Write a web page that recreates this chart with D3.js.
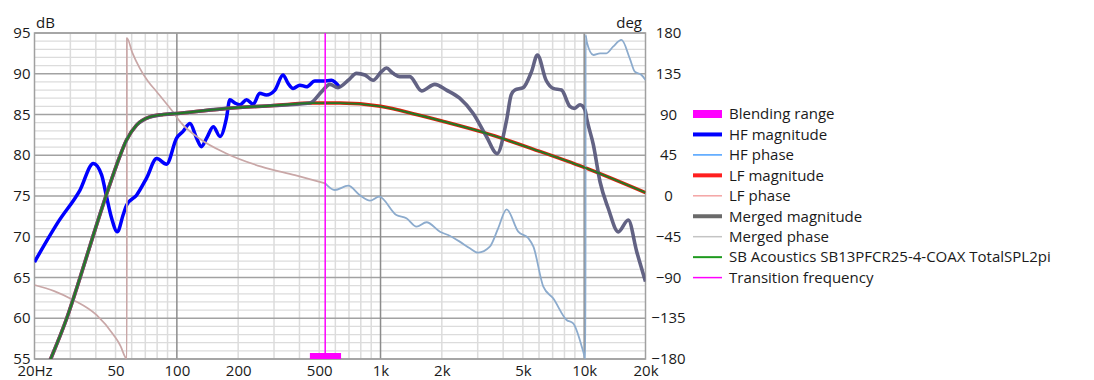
<!DOCTYPE html>
<html><head><meta charset="utf-8">
<script src="https://cdn.jsdelivr.net/npm/d3@7"></script>
<style>
html,body{margin:0;padding:0;background:#fff;}
svg{display:block;font-family:"Open Sans","Noto Sans",sans-serif;}
</style></head>
<body><svg id="c" width="1094" height="380"></svg>
<script>
// ---------- data ----------
const freqTicks  = [20,50,100,200,500,1000,2000,5000,10000,20000];
const freqLabels = ["20Hz","50","100","200","500","1k","2k","5k","10k","20k"];
const dbTicks  = [55,60,65,70,75,80,85,90,95];
const degTicks = [-180,-135,-90,-45,0,45,90,135,180];

const hfFreq = [20,26.2,33.4,38.9,42.7,45,47.8,51,54.5,56.7,63.4,71,79.6,89,99.7,107,116,125,132,140,151,163,175,182,193,204,220,237,255,275,303,332,352,372,402,433,476,523,574,632];
const hfMag  = [66.9,71.85,75.7,79.0,77.6,75.1,72.3,70.6,72.7,73.9,75.1,77.2,79.6,78.9,82.1,82.9,83.9,82.1,81.05,82.1,83.5,82.3,84.5,86.8,86.4,86.2,86.8,86.25,87.6,87.4,88.0,89.85,88.8,88.2,88.6,88.4,89.1,89.1,89.2,88.3];

const lfFreq = [20,24,28.8,33.4,38.9,45,50.6,56.7,63.4,73.7,85.8,103.7,175,300,466,632,1000,1500,2000,3200,6000,10000,20000];
const lfMag  = [50.5,55.0,60.0,64.9,70.2,75.1,78.8,81.9,83.7,84.7,85.0,85.15,85.75,86.1,86.4,86.4,86.0,85.0,84.2,82.8,80.5,78.5,75.4];

// merged magnitude: follows LF, blends in 450-640 Hz, then HF
const mergedFreq = [20,24,28.8,33.4,38.9,45,50.6,56.7,63.4,73.7,85.8,103.7,175,300,450,514,564,618,694,762,838,920,1010,1068,1152,1242,1392,1590,1846,2108,2448,2846,3312,3734,4158,4380,4568,5020,5520,5890,6500,7040,7740,8500,8960,9540,10100,10290,11100,11960,13120,14700,16460,18100,20000];
const mergedMag  = [50.5,55.0,60.0,64.9,70.2,75.1,78.8,81.9,83.7,84.7,85.0,85.15,85.75,86.1,86.4,87.8,88.7,88.3,89.2,90.05,89.85,89.2,90.25,90.7,90.05,89.65,89.65,87.9,88.7,88.0,87.0,85.15,82.3,80.2,84.3,87.4,88.0,88.3,90.3,92.3,89.2,88.2,88.0,86.0,85.75,86.2,85.55,84.5,81.25,76.75,73.5,70.6,72.05,68.2,64.5];

const lfPhaseFreq = [20,25,31,40.3,48.9,53,55.6,56.8,56.85,60.5,65.8,72,79.6,96,103.7,130,175,260,380,535];
const lfPhase     = [-98.3,-105,-114.8,-131.4,-153.5,-166,-177.4,-180,174.5,158,141,127,115.2,92.4,82.1,63,47,32.4,23,14.0];

const mergedPhaseFreq = [535,596,694,790,888,984,1196,1340,1502,1682,1958,2196,2448,2746,3014,3440,3780,4158,4746,5320,5632,6300,7040,8194,8830,9900,10150,10160,10300,11100,11960,12860,13860,15240,16740,17720,19120,20000];
const mergedPhase     = [14.0,6.6,11.4,1.1,-5.2,-0.8,-21.0,-24.6,-33.9,-29.0,-39.4,-44.2,-50.4,-57.7,-62.6,-56.0,-35.7,-14.7,-39.4,-46.7,-56.0,-100.1,-113,-136.9,-140.6,-171.9,-180,178,170,155.7,157.6,157.6,164.9,172.3,152,137.3,133.6,128.1];

const transitionFreq = 535;
const blendRange = [450,640];

const legendNames  = ["Blending range","HF magnitude","HF phase","LF magnitude","LF phase","Merged magnitude","Merged phase","SB Acoustics SB13PFCR25-4-COAX TotalSPL2pi","Transition frequency"];
const legendColors = ["#ff00ff","#0000ff","#4aa0ff","#ff2020","#f4a4a4","#6a6a6a","#c4c4c4","#1e9a1e","#ff00ff"];
const legendWidths = [8,4,1.5,4,1.5,4,1.5,2,1.5];

// ---------- chart ----------
const svg = d3.select("#c");
const L = 34.5, R = 645.5, T = 33, B = 359;
const x = d3.scaleLog().domain([20,20000]).range([L,R]);
const y = d3.scaleLinear().domain([55,95]).range([B,T]);
const yd = d3.scaleLinear().domain([-180,180]).range([B,T]);

svg.append("defs").append("clipPath").attr("id","clip")
  .append("rect").attr("x",L).attr("y",T).attr("width",R-L).attr("height",B-T);

const grid = svg.append("g");
d3.range(55,96).filter(v=>v%5!==0).forEach(v=>{
  grid.append("line").attr("x1",L).attr("x2",R).attr("y1",y(v)).attr("y2",y(v))
    .attr("stroke","#dcdcdc").attr("stroke-width",1.2);
});
const minorF = [];
[10,100,1000].forEach(dec=>{ for(let k=2;k<=9;k++){ const f=k*dec; if(f>20 && f<20000) minorF.push(f);} });
minorF.forEach(f=>{
  grid.append("line").attr("x1",x(f)).attr("x2",x(f)).attr("y1",T).attr("y2",B)
    .attr("stroke","#dcdcdc").attr("stroke-width",1.5);
});
dbTicks.forEach(v=>{
  grid.append("line").attr("x1",L).attr("x2",R).attr("y1",y(v)).attr("y2",y(v))
    .attr("stroke","#a2a2a2").attr("stroke-width",1.5);
});
[100,1000,10000].forEach(f=>{
  grid.append("line").attr("x1",x(f)).attr("x2",x(f)).attr("y1",T).attr("y2",B)
    .attr("stroke","#8c8c8c").attr("stroke-width",1.5);
});
grid.append("rect").attr("x",L).attr("y",T).attr("width",R-L).attr("height",B-T)
  .attr("fill","none").attr("stroke","#a0a0a0").attr("stroke-width",1.5);

const axL = svg.append("g").attr("transform",`translate(${L-4},0)`)
  .call(d3.axisLeft(y).tickValues(dbTicks).tickSize(0).tickPadding(0));
const axR = svg.append("g").attr("transform",`translate(${R+23},0)`)
  .call(d3.axisRight(yd).tickValues(degTicks).tickSize(0).tickPadding(0));
const axB = svg.append("g").attr("transform",`translate(0,${B+6})`)
  .call(d3.axisBottom(x).tickValues(freqTicks).tickFormat((d,i)=>freqLabels[i]).tickSize(0).tickPadding(0));
[axL,axR,axB].forEach(a=>{a.select(".domain").remove(); a.selectAll("text").attr("fill","#1a1a1a").style("font-size","15px").style("font-family","'Open Sans','Noto Sans',sans-serif");});
axR.selectAll("text").attr("text-anchor","middle");
axB.selectAll("text").attr("dy","0.7em");
axL.selectAll("text").attr("dy","0.3em");
axR.selectAll("text").attr("dy","0.3em");

svg.append("text").attr("x",36).attr("y",28).text("dB").attr("fill","#1a1a1a").style("font-size","15px");
svg.append("text").attr("x",642).attr("y",28).attr("text-anchor","end").text("deg").attr("fill","#1a1a1a").style("font-size","15px");

const plot = svg.append("g").attr("clip-path","url(#clip)");
const mk = (fs,vs,sc)=> d3.line().x((d,i)=>x(fs[i])).y((d,i)=>sc(vs[i])).curve(d3.curveMonotoneX)(vs);

plot.append("path").attr("d",mk(hfFreq,hfMag,y)).attr("fill","none").attr("stroke","#0000ff").attr("stroke-width",3.5).attr("stroke-linejoin","round");
plot.append("path").attr("d",mk(lfFreq,lfMag,y)).attr("fill","none").attr("stroke","#e02010").attr("stroke-width",3.5);
plot.append("path").attr("d",mk(lfPhaseFreq,lfPhase,yd)).attr("fill","none").attr("stroke","#c9a7a7").attr("stroke-width",1.7);
plot.append("path").attr("d",mk(mergedFreq,mergedMag,y)).attr("fill","none").attr("stroke","#56567a").attr("stroke-opacity",0.92).attr("stroke-width",3.6).attr("stroke-linejoin","round");
plot.append("path").attr("d",mk(mergedPhaseFreq,mergedPhase,yd)).attr("fill","none").attr("stroke","#8cabcd").attr("stroke-width",1.8);
plot.append("path").attr("d",mk(lfFreq,lfMag,y)).attr("fill","none").attr("stroke","#237a23").attr("stroke-width",1.9);
plot.append("line").attr("x1",x(transitionFreq)).attr("x2",x(transitionFreq)).attr("y1",T).attr("y2",B)
  .attr("stroke","#ff00ff").attr("stroke-width",1.5);
plot.append("rect").attr("x",x(blendRange[0])).attr("width",x(blendRange[1])-x(blendRange[0]))
  .attr("y",B-6).attr("height",6).attr("fill","#ff00ff");

const lg = svg.append("g");
legendNames.forEach((n,i)=>{
  const cy = 114 + i*20.45;
  lg.append("line").attr("x1",693).attr("x2",722).attr("y1",cy).attr("y2",cy)
    .attr("stroke",legendColors[i]).attr("stroke-width",legendWidths[i]);
  lg.append("text").attr("x",729).attr("y",cy).attr("dy","0.35em").text(n)
    .attr("fill","#1a1a1a").style("font-size","15px");
});
</script></body></html>
